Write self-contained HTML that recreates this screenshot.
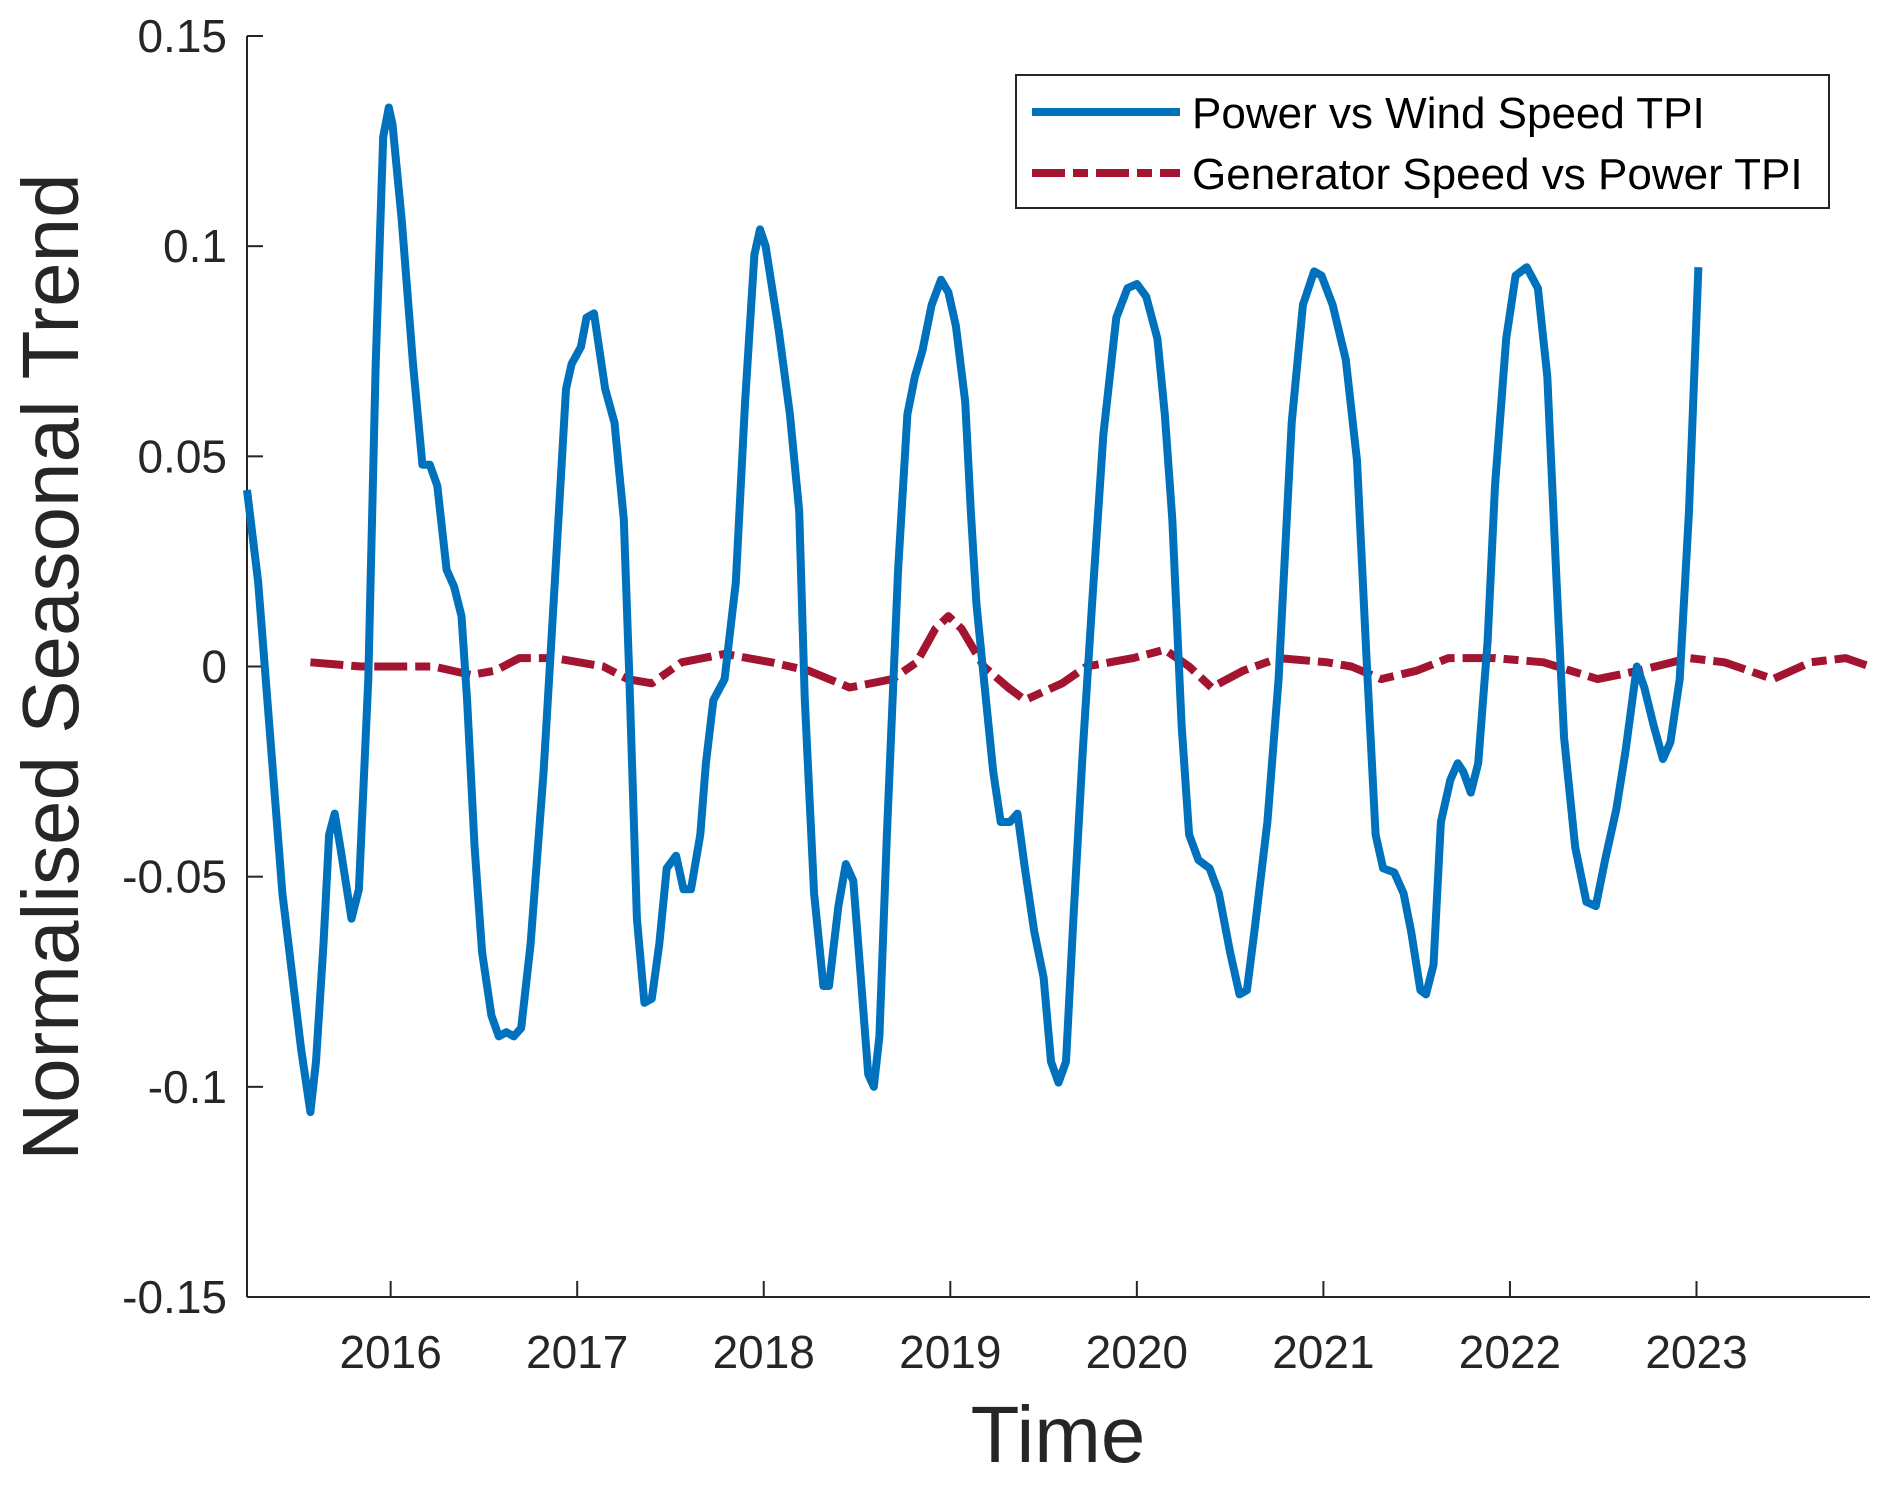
<!DOCTYPE html>
<html><head><meta charset="utf-8"><style>
html,body{margin:0;padding:0;background:#fff;}
svg{display:block;font-family:"Liberation Sans",Arial,sans-serif;}
</style></head><body>
<svg id="chart" width="1892" height="1487" viewBox="0 0 1892 1487" xmlns="http://www.w3.org/2000/svg">
<rect width="1892" height="1487" fill="#fff"/>
<g id="axes"></g>
<g id="series"></g>
<g id="legend">
  <rect x="1016" y="75" width="813" height="133" fill="#fff" stroke="#262626" stroke-width="2"/>
  <line x1="1032" y1="112" x2="1180" y2="112" stroke="#0072BD" stroke-width="8"/>
  <text x="1192" y="128" font-size="44" fill="#000">Power vs Wind Speed TPI</text>
  <line x1="1032" y1="173" x2="1180" y2="173" stroke="#A2142F" stroke-width="8" stroke-dasharray="33 8 15 8"/>
  <text x="1192" y="189" font-size="44" fill="#000">Generator Speed vs Power TPI</text>
</g>
<text x="1058" y="1462" font-size="80" fill="#262626" text-anchor="middle">Time</text>
<text x="0" y="0" font-size="80" fill="#262626" text-anchor="middle" transform="translate(78,667) rotate(-90)">Normalised Seasonal Trend</text>
</svg>
<script>
const blueYears=[2015.23,2015.29,2015.42,2015.52,2015.57,2015.60,2015.64,2015.67,2015.70,2015.73,2015.79,2015.83,2015.88,2015.92,2015.96,2015.99,2016.01,2016.06,2016.12,2016.17,2016.21,2016.25,2016.30,2016.34,2016.38,2016.41,2016.45,2016.49,2016.54,2016.58,2016.62,2016.66,2016.70,2016.75,2016.82,2016.88,2016.94,2016.97,2017.02,2017.05,2017.09,2017.15,2017.20,2017.25,2017.28,2017.32,2017.36,2017.40,2017.44,2017.48,2017.53,2017.57,2017.61,2017.66,2017.69,2017.73,2017.79,2017.85,2017.90,2017.95,2017.98,2018.01,2018.08,2018.14,2018.19,2018.22,2018.27,2018.32,2018.35,2018.40,2018.44,2018.48,2018.52,2018.56,2018.59,2018.62,2018.66,2018.72,2018.77,2018.81,2018.85,2018.90,2018.95,2018.99,2019.03,2019.08,2019.11,2019.14,2019.18,2019.23,2019.27,2019.32,2019.36,2019.40,2019.45,2019.50,2019.54,2019.58,2019.62,2019.66,2019.71,2019.76,2019.82,2019.89,2019.95,2020.00,2020.05,2020.11,2020.15,2020.19,2020.24,2020.28,2020.33,2020.39,2020.44,2020.50,2020.55,2020.59,2020.63,2020.70,2020.76,2020.83,2020.89,2020.95,2020.99,2021.05,2021.12,2021.18,2021.23,2021.28,2021.32,2021.38,2021.43,2021.47,2021.52,2021.55,2021.59,2021.63,2021.68,2021.72,2021.75,2021.79,2021.83,2021.88,2021.92,2021.98,2022.03,2022.09,2022.15,2022.20,2022.25,2022.29,2022.35,2022.41,2022.46,2022.51,2022.57,2022.62,2022.68,2022.72,2022.77,2022.82,2022.86,2022.91,2022.96,2023.01];
const blueValues=[0.042,0.020,-0.054,-0.091,-0.106,-0.094,-0.066,-0.040,-0.035,-0.043,-0.060,-0.053,-0.003,0.072,0.126,0.133,0.129,0.106,0.072,0.048,0.048,0.043,0.023,0.019,0.012,-0.008,-0.043,-0.068,-0.083,-0.088,-0.087,-0.088,-0.086,-0.066,-0.025,0.020,0.066,0.072,0.076,0.083,0.084,0.066,0.058,0.035,-0.003,-0.060,-0.080,-0.079,-0.066,-0.048,-0.045,-0.053,-0.053,-0.040,-0.023,-0.008,-0.003,0.020,0.063,0.098,0.104,0.100,0.080,0.060,0.037,-0.008,-0.054,-0.076,-0.076,-0.057,-0.047,-0.051,-0.074,-0.097,-0.100,-0.088,-0.040,0.023,0.060,0.069,0.075,0.086,0.092,0.089,0.081,0.063,0.037,0.015,-0.003,-0.025,-0.037,-0.037,-0.035,-0.048,-0.063,-0.074,-0.094,-0.099,-0.094,-0.060,-0.020,0.015,0.055,0.083,0.090,0.091,0.088,0.078,0.060,0.035,-0.014,-0.040,-0.046,-0.048,-0.054,-0.068,-0.078,-0.077,-0.063,-0.037,-0.003,0.058,0.086,0.094,0.093,0.086,0.073,0.049,0.003,-0.040,-0.048,-0.049,-0.054,-0.063,-0.077,-0.078,-0.071,-0.037,-0.027,-0.023,-0.025,-0.030,-0.023,0.006,0.043,0.078,0.093,0.095,0.090,0.069,0.020,-0.017,-0.043,-0.056,-0.057,-0.046,-0.034,-0.020,0.000,-0.005,-0.014,-0.022,-0.018,-0.003,0.037,0.095];
const redYears=[2015.57,2015.84,2016.23,2016.43,2016.56,2016.69,2016.88,2017.01,2017.14,2017.27,2017.40,2017.56,2017.79,2018.04,2018.24,2018.46,2018.69,2018.82,2018.92,2018.99,2019.06,2019.18,2019.31,2019.40,2019.60,2019.73,2019.98,2020.15,2020.28,2020.40,2020.57,2020.76,2021.02,2021.15,2021.31,2021.50,2021.67,2021.92,2022.18,2022.47,2022.69,2022.96,2023.15,2023.41,2023.61,2023.80,2023.93];
const redValues=[0.001,0,0,-0.002,-0.001,0.002,0.002,0.001,0,-0.003,-0.004,0.001,0.003,0.001,-0.001,-0.005,-0.003,0.001,0.009,0.012,0.009,0,-0.005,-0.008,-0.004,0,0.002,0.004,0,-0.005,-0.001,0.002,0.001,0,-0.003,-0.001,0.002,0.002,0.001,-0.003,-0.001,0.002,0.001,-0.003,0.001,0.002,0];
const xTickValues=[2016,2017,2018,2019,2020,2021,2022,2023];
const yTickValues=[0.15,0.1,0.05,0,-0.05,-0.1,-0.15];
const yTickLabels=["0.15","0.1","0.05","0","-0.05","-0.1","-0.15"];

const X0=247,X1=1870,Y0=36,Y1=1297,XMIN=2015.23,XMAX=2023.93,YMIN=-0.15,YMAX=0.15;
const sx=v=>X0+(v-XMIN)/(XMAX-XMIN)*(X1-X0);
const sy=v=>Y1-(v-YMIN)/(YMAX-YMIN)*(Y1-Y0);
const NS='http://www.w3.org/2000/svg';
function mk(tag,attrs,parent){const e=document.createElementNS(NS,tag);for(const k in attrs)e.setAttribute(k,attrs[k]);parent.appendChild(e);return e;}
const axes=document.getElementById('axes');
const series=document.getElementById('series');
let yAxis=mk('line',{x1:X0,y1:Y0,x2:X0,y2:Y1,stroke:'#262626','stroke-width':2},axes);


let xAxis=mk('line',{x1:X0,y1:Y1,x2:X1,y2:Y1,stroke:'#262626','stroke-width':2},axes);


yTickValues.forEach((v,i)=>{
  const y=sy(v);
  const t=mk('line',{x1:X0,y1:y,x2:X0+16,y2:y,stroke:'#262626','stroke-width':2},axes);
  
  
  const l=mk('text',{x:227,y:y+16,'font-size':46,fill:'#262626','text-anchor':'end'},axes);
  l.textContent=yTickLabels[i];
  
  
});
xTickValues.forEach(v=>{
  const x=sx(v);
  const t=mk('line',{x1:x,y1:Y1,x2:x,y2:Y1-16,stroke:'#262626','stroke-width':2},axes);
  
  
  const l=mk('text',{x:x,y:1368,'font-size':46,fill:'#262626','text-anchor':'middle'},axes);
  l.textContent=String(v);
  
  
});
function pts(xs,ys){return xs.map((x,i)=>sx(x).toFixed(1)+','+sy(ys[i]).toFixed(1)).join(' ');}
const red=mk('polyline',{points:pts(redYears,redValues),fill:'none',stroke:'#A2142F','stroke-width':8,'stroke-dasharray':'33 8 15 8','stroke-linejoin':'round'},series);


const blue=mk('polyline',{points:pts(blueYears,blueValues),fill:'none',stroke:'#0072BD','stroke-width':8,'stroke-linejoin':'round'},series);


</script>
</body></html>
